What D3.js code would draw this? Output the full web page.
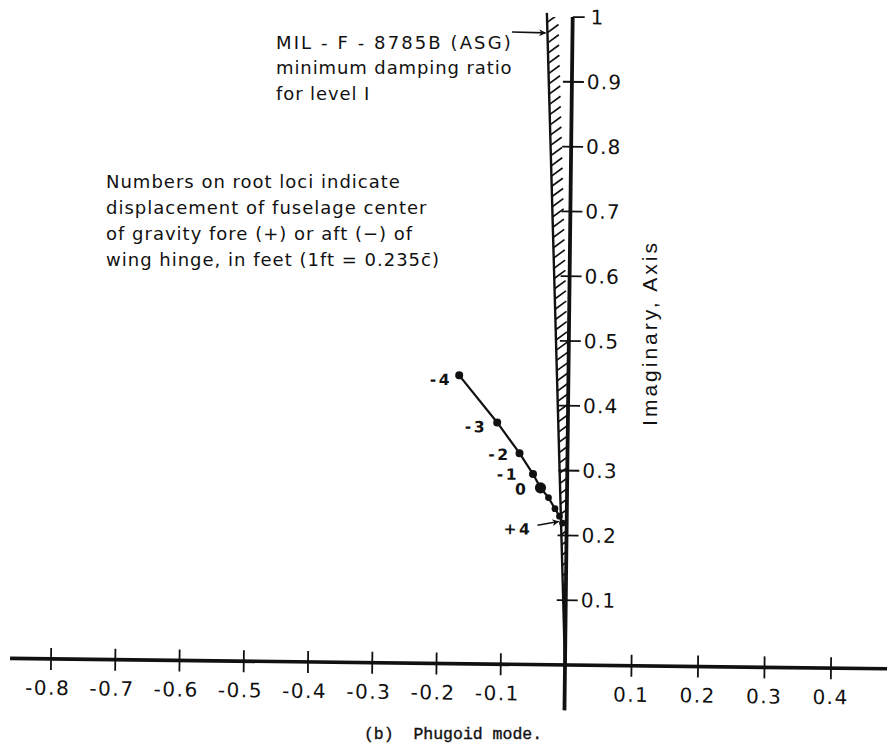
<!DOCTYPE html>
<html><head><meta charset="utf-8">
<script src="https://cdn.jsdelivr.net/npm/d3@7"></script>
<style>
html,body{margin:0;padding:0;background:#fff;}
svg{display:block;}
</style></head>
<body>
<svg id="chart" width="887" height="747"></svg>
<script>
// ---------------- data ----------------
const locusNames = ["-4", "-3", "-2", "-1", "0", "+1", "+2", "+3", "+4"];
const locusReal  = [-0.170, -0.110, -0.0747, -0.0533, -0.0414, -0.0288, -0.0185, -0.0113, -0.0065];
const locusImag  = [0.445, 0.373, 0.326, 0.294, 0.273, 0.258, 0.241, 0.2295, 0.219];
const labelledPoints = ["-4", "-3", "-2", "-1", "0", "+4"];
const xTickValues = [-0.8, -0.7, -0.6, -0.5, -0.4, -0.3, -0.2, -0.1, 0.1, 0.2, 0.3, 0.4];
const xTickLabels = ["-0.8", "-0.7", "-0.6", "-0.5", "-0.4", "-0.3", "-0.2", "-0.1", "0.1", "0.2", "0.3", "0.4"];
const yTickValues = [0.1, 0.2, 0.3, 0.4, 0.5, 0.6, 0.7, 0.8, 0.9, 1.0];
const yTickLabels = ["0.1", "0.2", "0.3", "0.4", "0.5", "0.6", "0.7", "0.8", "0.9", "1"];
const minDampingRatio = 0.04;
const specLines = ["MIL - F - 8785B (ASG)", "minimum damping ratio", "for level I"];
const noteLines = ["Numbers on root loci indicate", "displacement of fuselage center",
                   "of gravity fore (+) or aft (\u2212) of", "wing hinge, in feet (1ft = 0.235c\u0304)"];
const yAxisTitle = "Imaginary, Axis";
const caption = "(b)  Phugoid mode.";

// ---------------- layout / style ----------------
const ROT = 0.68;               // the scanned page is slightly rotated
const OX = 565, OY = 665;       // origin pixel
const labelOffset = {           // [dx (text end), dy] in px relative to point
  "-4": [-7, 5], "-3": [-10, 5], "-2": [-9, 2], "-1": [-14, 1], "0": [-12, 2], "+4": [-30, 7]
};
const numFont = "'DejaVu Sans', sans-serif";

const svg = d3.select("#chart");
const x = d3.scaleLinear().domain([-0.8, 0, 0.4]).range([51, OX, 831]);
const y = d3.scaleLinear().domain([0, 1]).range([OY, 17]);

const g = svg.append("g").attr("transform", `rotate(${ROT},${OX},${OY})`);
const th = ROT * Math.PI / 180;
function rot(px, py) {
  const dx = px - OX, dy = py - OY;
  return [OX + dx * Math.cos(th) - dy * Math.sin(th), OY + dx * Math.sin(th) + dy * Math.cos(th)];
}

// hatched band (minimum damping ratio)
const band = [[0, 0], [-minDampingRatio * 1.0, 1.0], [0, 1.0]];
g.append("clipPath").attr("id", "bandclip").append("polygon")
  .attr("points", band.map(d => [x(d[0]), y(d[1])].join(",")).join(" "));
const hatchW = d3.range(0.012, 0.995, 0.0158);
g.append("g").attr("clip-path", "url(#bandclip)")
  .selectAll("line").data(hatchW).join("line")
  .attr("x1", w => x(-minDampingRatio * w) - 1)
  .attr("y1", w => y(w) + 1)
  .attr("x2", w => x(-minDampingRatio * w) + 11)
  .attr("y2", w => y(w) - 8)
  .attr("stroke", "#111").attr("stroke-width", 1.7);
g.append("line")
  .attr("x1", x(0)).attr("y1", y(0))
  .attr("x2", x(-minDampingRatio * 1.006)).attr("y2", y(1.006))
  .attr("stroke", "#111").attr("stroke-width", 2.4);

// x axis
g.append("line").attr("x1", 10).attr("x2", 900).attr("y1", y(0)).attr("y2", y(0))
  .attr("stroke", "#111").attr("stroke-width", 3.6);
g.append("g").selectAll("line").data(xTickValues).join("line")
  .attr("x1", d => x(d)).attr("x2", d => x(d))
  .attr("y1", y(0) - 11).attr("y2", y(0) + 11)
  .attr("stroke", "#111").attr("stroke-width", 1.8);
g.append("g").selectAll("text").data(xTickValues).join("text")
  .attr("x", d => x(d) + (d < 0 ? -3 : 0))
  .attr("y", y(0) + 29)
  .attr("text-anchor", "middle").attr("dominant-baseline", "central")
  .attr("font-family", numFont).attr("font-size", 20).attr("letter-spacing", 1.5)
  .attr("fill", "#111")
  .text((d, i) => xTickLabels[i]);

// y axis
g.append("line").attr("x1", x(0)).attr("x2", x(0)).attr("y1", y(-0.07)).attr("y2", y(1))
  .attr("stroke", "#111").attr("stroke-width", 3.8);
g.append("g").selectAll("line").data(yTickValues).join("line")
  .attr("x1", d => d === 1 ? x(0) : x(0) - 9).attr("x2", x(0) + 12)
  .attr("y1", d => y(d)).attr("y2", d => y(d))
  .attr("stroke", "#111").attr("stroke-width", 1.8);
g.append("g").selectAll("text").data(yTickValues).join("text")
  .attr("x", d => x(0) + (d === 1 ? 18 : 15))
  .attr("y", d => y(d))
  .attr("dominant-baseline", "central")
  .attr("font-family", numFont).attr("font-size", 20).attr("letter-spacing", 1.2)
  .attr("fill", "#111")
  .text((d, i) => yTickLabels[i]);

// root locus
const pts = locusNames.map((n, i) => ({ n, re: locusReal[i], im: locusImag[i] }));
g.append("path").datum(pts)
  .attr("d", d3.line().x(d => x(d.re)).y(d => y(d.im)))
  .attr("fill", "none").attr("stroke", "#111").attr("stroke-width", 2.2);
g.append("g").selectAll("circle").data(pts).join("circle")
  .attr("cx", d => x(d.re)).attr("cy", d => y(d.im))
  .attr("r", d => d.n === "0" ? 5.6 : (d.n.startsWith("+") ? 3.4 : 4))
  .attr("fill", "#111");
const lab = pts.filter(d => labelledPoints.includes(d.n));
g.append("g").selectAll("text").data(lab).join("text")
  .attr("x", d => x(d.re) + labelOffset[d.n][0])
  .attr("y", d => y(d.im) + labelOffset[d.n][1])
  .attr("text-anchor", "end").attr("dominant-baseline", "central")
  .attr("font-family", numFont).attr("font-size", 15.5).attr("font-weight", "bold")
  .attr("letter-spacing", 2.5).attr("fill", "#111")
  .text(d => d.n);

// arrow markers
const defs = svg.append("defs");
defs.append("marker").attr("id", "ah").attr("viewBox", "0 0 10 10")
  .attr("refX", 9).attr("refY", 5).attr("markerWidth", 10).attr("markerHeight", 7)
  .attr("markerUnits", "userSpaceOnUse").attr("orient", "auto")
  .append("path").attr("d", "M0,0 L10,5 L0,10 L3,5 Z").attr("fill", "#111");

// +4 arrow
const p4 = pts.find(d => d.n === "+4");
g.append("line")
  .attr("x1", x(p4.re) - 25).attr("y1", y(p4.im) + 2.5)
  .attr("x2", x(p4.re) - 4).attr("y2", y(p4.im) - 1.5)
  .attr("stroke", "#111").attr("stroke-width", 1.6).attr("marker-end", "url(#ah)");

// spec annotation (screen coordinates)
const annFont = "'DejaVu Sans', sans-serif";
svg.append("g").selectAll("text").data(specLines).join("text")
  .attr("x", 276).attr("y", (d, i) => 42 + i * 25.5)
  .attr("dominant-baseline", "central")
  .attr("font-family", annFont).attr("font-size", 18)
  .attr("letter-spacing", (d, i) => i === 0 ? 2.1 : 0.9)
  .attr("fill", "#111")
  .text(d => d);
const tip = rot(x(-minDampingRatio * 0.975) - 2, y(0.975));
svg.append("line").attr("x1", 512).attr("y1", 32).attr("x2", tip[0]).attr("y2", tip[1])
  .attr("stroke", "#111").attr("stroke-width", 1.6).attr("marker-end", "url(#ah)");

// note
svg.append("g").selectAll("text").data(noteLines).join("text")
  .attr("x", 106).attr("y", (d, i) => 181 + i * 26.3)
  .attr("dominant-baseline", "central")
  .attr("font-family", annFont).attr("font-size", 18).attr("letter-spacing", 1.0)
  .attr("fill", "#111")
  .text(d => d);

// y axis title
svg.append("text")
  .attr("transform", "translate(649,333) rotate(-90)")
  .attr("text-anchor", "middle").attr("dominant-baseline", "central")
  .attr("font-family", "'Liberation Sans', Arial, sans-serif").attr("font-size", 21)
  .attr("letter-spacing", 3).attr("fill", "#111")
  .text(yAxisTitle);

// caption
svg.append("text").attr("x", 453).attr("y", 739)
  .attr("text-anchor", "middle")
  .attr("font-family", "'Liberation Mono', 'Courier New', monospace").attr("font-size", 16.5)
  .attr("fill", "#111").attr("stroke", "#111").attr("stroke-width", 0.35)
  .style("white-space", "pre")
  .text(caption);
</script>
</body></html>
